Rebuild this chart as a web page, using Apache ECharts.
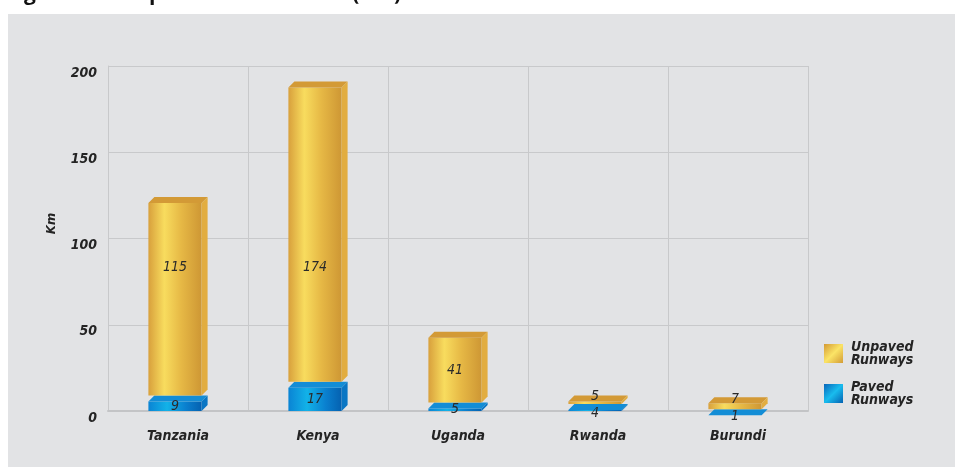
<!DOCTYPE html>
<html>
<head>
<meta charset="utf-8">
<script src="https://cdn.jsdelivr.net/npm/echarts@6/dist/echarts.min.js"></script>
<style>
  html, body { margin: 0; padding: 0; background: #ffffff; }
  #chart { width: 955px; height: 467px; }
</style>
</head>
<body>
<div id="chart"></div>
<script>
// Airport runways by country, km
const countries = ['Tanzania', 'Kenya', 'Uganda', 'Rwanda', 'Burundi'];
const paved = [9, 17, 5, 4, 1];
const unpaved = [115, 174, 41, 5, 7];
const yTicks = [0, 50, 100, 150, 200];
const unpavedName = 'Unpaved Runways';
const pavedName = 'Paved Runways';
const axisName = 'Km';
const titleText = 'Figure 3.6: Airports in East Africa (Km)';

const FONT = '"Liberation Sans Narrow", "DejaVu Sans Condensed", Lato, sans-serif';
const DEPTH = 6;          // oblique depth of the 3D boxes, px
const LABEL_ROW = 83;     // value level where labels of tall boxes line up

const G = echarts.graphic;
const palettes = {
  unpaved: {
    front: new G.LinearGradient(0, 0, 1, 0, [
      { offset: 0, color: '#d8a03c' },
      { offset: 0.3, color: '#f8dc5e' },
      { offset: 0.62, color: '#e6b845' },
      { offset: 1, color: '#ce9734' }
    ]),
    top: '#d39a36',
    side: '#e2ad40',
    legend: new G.LinearGradient(0, 0, 1, 1, [
      { offset: 0, color: '#d49a34' },
      { offset: 0.5, color: '#fbe466' },
      { offset: 1, color: '#d39c36' }
    ])
  },
  paved: {
    front: new G.LinearGradient(0, 0, 1, 0, [
      { offset: 0, color: '#0a84d4' },
      { offset: 0.35, color: '#12b2e8' },
      { offset: 0.7, color: '#0a80cf' },
      { offset: 1, color: '#0561b0' }
    ]),
    top: '#138dd6',
    side: '#0a76c4',
    legend: new G.LinearGradient(0, 0, 1, 1, [
      { offset: 0, color: '#0866ba' },
      { offset: 0.5, color: '#19bcee' },
      { offset: 1, color: '#0562b2' }
    ])
  }
};

// Label centres for both stacked segments of one country, spread apart when crowded
function labelYs(api, idx) {
  const y0 = api.coord([idx, 0])[1];
  const yP = api.coord([idx, paved[idx]])[1];
  const yT = api.coord([idx, paved[idx] + unpaved[idx]])[1];
  const row = api.coord([idx, LABEL_ROW])[1];
  let a = (yP + DEPTH + y0) / 2;
  const uTop = yT + DEPTH, uBot = yP;
  let b = (row > uTop + 20 && row < uBot - 20) ? row : (uTop + uBot) / 2;
  const gap = 17;
  if (a - b < gap) {
    const m = (a + b) / 2 - 2;
    b = m - gap / 2;
    a = m + gap / 2;
  }
  return { paved: a, unpaved: b };
}

function makeRenderer(key) {
  const pal = palettes[key];
  return function (params, api) {
    const idx = api.value(0);
    const lo = api.value(1);
    const hi = api.value(2);
    const val = api.value(3);
    const center = api.coord([idx, 0])[0];
    const band = api.size([1, 0])[0];
    const w = band * 0.38;
    const x0 = center - (w + DEPTH) / 2;
    const yLo = api.coord([idx, lo])[1];
    const yHi = api.coord([idx, hi])[1];
    const fTop = yHi + DEPTH;
    const children = [];
    if (yLo > fTop) {
      children.push({
        type: 'rect',
        shape: { x: x0, y: fTop, width: w, height: yLo - fTop },
        style: { fill: pal.front }
      });
    }
    children.push({
      type: 'polygon',
      shape: { points: [[x0, fTop], [x0 + w, fTop], [x0 + w + DEPTH, yHi], [x0 + DEPTH, yHi]] },
      style: { fill: pal.top }
    });
    const sideR = Math.max(yLo - DEPTH, yHi);
    const sideL = Math.max(yLo, fTop);
    children.push({
      type: 'polygon',
      shape: { points: [[x0 + w, fTop], [x0 + w + DEPTH, yHi], [x0 + w + DEPTH, sideR], [x0 + w, sideL]] },
      style: { fill: pal.side }
    });
    const ly = labelYs(api, idx)[key];
    children.push({
      type: 'text',
      z2: 10,
      style: {
        text: String(val),
        x: x0 + w / 2,
        y: ly,
        align: 'center',
        verticalAlign: 'middle',
        font: 'italic 14px ' + FONT,
        fill: '#2a2a2a'
      }
    });
    return { type: 'group', children: children };
  };
}

const pavedData = countries.map((c, i) => [i, 0, paved[i], paved[i]]);
const unpavedData = countries.map((c, i) => [i, paved[i], paved[i] + unpaved[i], unpaved[i]]);

const labelStyle = {
  fontFamily: FONT,
  fontStyle: 'italic',
  fontWeight: 'bold',
  fontSize: 14,
  color: '#242424'
};

const chart = echarts.init(document.getElementById('chart'), null, { renderer: 'canvas' });
chart.setOption({
  animation: false,
  backgroundColor: '#ffffff',
  graphic: [
    {
      type: 'rect',
      z: -10,
      silent: true,
      shape: { x: 8, y: 14, width: 947, height: 453 },
      style: { fill: '#e2e3e5' }
    },
    {
      type: 'text',
      z: -10,
      silent: true,
      style: {
        text: titleText,
        x: 6,
        y: 5,
        verticalAlign: 'bottom',
        font: 'bold 21px "Open Sans", sans-serif',
        fill: '#111111'
      }
    }
  ],
  grid: { left: 108, right: 147, top: 66, bottom: 56 },
  legend: {
    orient: 'vertical',
    left: 824,
    top: 340,
    padding: 0,
    itemWidth: 19,
    itemHeight: 19,
    itemGap: 13,
    data: [
      { name: unpavedName, icon: 'rect' },
      { name: pavedName, icon: 'rect' }
    ],
    formatter: n => n.replace(' ', '\n'),
    textStyle: Object.assign({}, labelStyle, { lineHeight: 13, padding: [0, 0, 0, 3] })
  },
  xAxis: {
    type: 'category',
    data: countries,
    boundaryGap: true,
    axisTick: { show: false },
    axisLine: { show: true, lineStyle: { color: '#c3c4c6', width: 2 } },
    splitLine: { show: true, lineStyle: { color: '#c8c9cb', width: 1 } },
    axisLabel: Object.assign({}, labelStyle, { margin: 18 })
  },
  yAxis: {
    type: 'value',
    min: yTicks[0],
    max: yTicks[yTicks.length - 1],
    interval: yTicks[1] - yTicks[0],
    name: axisName,
    nameLocation: 'middle',
    nameGap: 50,
    nameTextStyle: Object.assign({}, labelStyle, { fontSize: 13, padding: [0, 0, 0, 30] }),
    axisTick: { show: false },
    axisLine: { show: true, lineStyle: { color: '#c8c9cb', width: 1 } },
    splitLine: { show: true, lineStyle: { color: '#c8c9cb', width: 1 } },
    axisLabel: Object.assign({}, labelStyle, { margin: 11, verticalAlign: 'top' })
  },
  series: [
    {
      name: pavedName,
      type: 'custom',
      renderItem: makeRenderer('paved'),
      itemStyle: { color: palettes.paved.legend },
      encode: { x: 0, y: [1, 2] },
      data: pavedData
    },
    {
      name: unpavedName,
      type: 'custom',
      renderItem: makeRenderer('unpaved'),
      itemStyle: { color: palettes.unpaved.legend },
      encode: { x: 0, y: [1, 2] },
      data: unpavedData
    }
  ]
});
</script>
</body>
</html>
